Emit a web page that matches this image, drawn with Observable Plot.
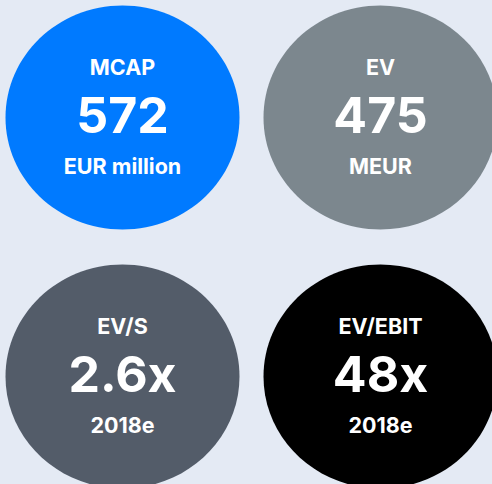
<!DOCTYPE html>
<html>
<head>
<meta charset="utf-8">
<script src="https://cdn.jsdelivr.net/npm/d3@7"></script>
<script src="https://cdn.jsdelivr.net/npm/@observablehq/plot@0.6"></script>
<style>
  html, body { margin: 0; padding: 0; background: #e4eaf4; }
  #chart svg { display: block; }
</style>
</head>
<body>
<div id="chart"></div>
<script>
// Data
const metrics = ["MCAP", "EV", "EV/S", "EV/EBIT"];
const values = ["572", "475", "2.6x", "48x"];
const units = ["EUR million", "MEUR", "2018e", "2018e"];
const colors = ["#007aff", "#7c878e", "#535c69", "#000000"];
const cols = [0, 1, 0, 1];
const rows = [0, 0, 1, 1];

const data = metrics.map((m, i) => ({
  metric: m, value: values[i], unit: units[i], color: colors[i], col: cols[i], row: rows[i]
}));

// ellipse symbol (slightly wider than tall)
const ASPECT = 112 / 117;
const K = 0.5522847498;
const ellipse = {
  draw(ctx, size) {
    const rx = Math.sqrt(size / Math.PI), ry = rx * ASPECT;
    ctx.moveTo(rx, 0);
    ctx.bezierCurveTo(rx, K * ry, K * rx, ry, 0, ry);
    ctx.bezierCurveTo(-K * rx, ry, -rx, K * ry, -rx, 0);
    ctx.bezierCurveTo(-rx, -K * ry, -K * rx, -ry, 0, -ry);
    ctx.bezierCurveTo(K * rx, -ry, rx, -K * ry, rx, 0);
    ctx.closePath();
  }
};

const font = "Inter, Lato, sans-serif";

const chart = Plot.plot({
  width: 492,
  height: 484,
  margin: 0,
  x: { type: "point", domain: [0, 1], range: [121.5, 379.5], padding: 0, axis: null },
  y: { type: "point", domain: [0, 1], range: [116.5, 375.5], padding: 0, axis: null },
  style: { background: "#e4eaf4", fontFamily: font },
  marks: [
    Plot.dot(data, { x: "col", y: "row", r: 117, symbol: ellipse, fill: "color", stroke: null }),
    Plot.text(data, { x: "col", y: "row", text: "metric", dy: -49, fill: "white", fontSize: 21.5, fontWeight: 700, fontFamily: font }),
    Plot.text(data, { x: "col", y: "row", text: "value", dy: -1, fill: "white", fontSize: 50, fontWeight: 700, fontFamily: font }),
    Plot.text(data, { x: "col", y: "row", text: "unit", dy: 50, fill: "white", fontSize: 21.5, fontWeight: 700, fontFamily: font })
  ]
});
document.getElementById("chart").appendChild(chart);
</script>
</body>
</html>
